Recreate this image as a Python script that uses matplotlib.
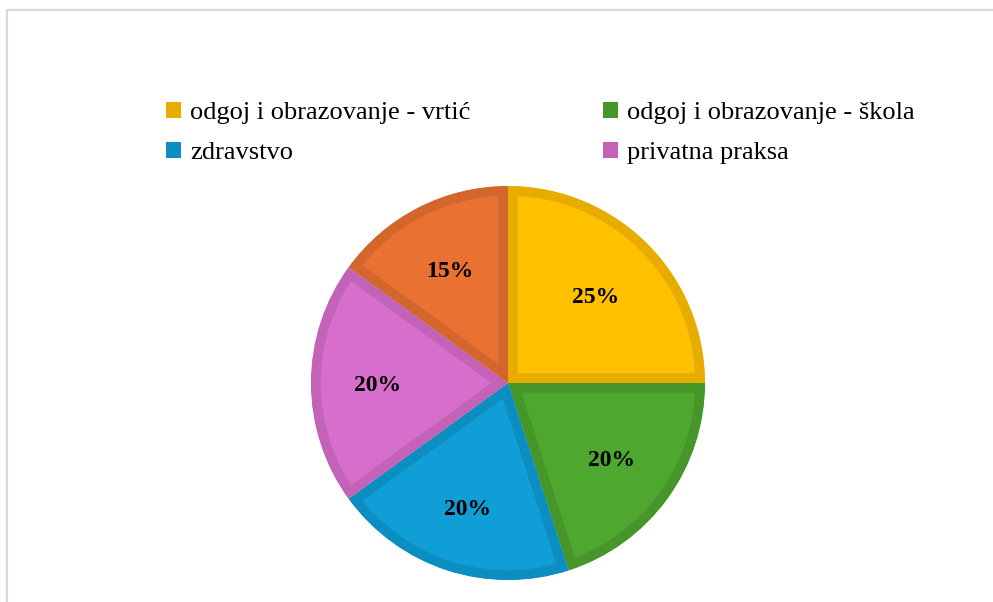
import matplotlib
matplotlib.use('Agg')
import matplotlib.pyplot as plt
import numpy as np
from matplotlib.patches import Rectangle, Patch

categories = ['odgoj i obrazovanje - vrtić', 'odgoj i obrazovanje - škola',
              'zdravstvo', 'privatna praksa', 'ostalo']
shares = [25, 20, 20, 20, 15]
fill_colors = ['#FFC000', '#4EA72E', '#0F9ED5', '#D86ECC', '#E97132']
edge_colors = ['#E6AD00', '#46962A', '#0D8EC0', '#C263B8', '#D2662D']
label_dist = [0.63, 0.65, 0.66, 0.66, 0.65]

W, H = 993, 602
fig = plt.figure(figsize=(W / 100, H / 100), dpi=100)
plt.rcParams['font.family'] = 'Liberation Serif'

# light chart frame (runs off the right and bottom edges)
fig.add_artist(Rectangle((7 / W, -0.1), 1.2, (H - 10) / H + 0.1, transform=fig.transFigure,
                         fill=False, edgecolor='#D9D9D9', linewidth=1.6))

cx, cy, r = 508, 383, 197
ax = fig.add_axes([(cx - r) / W, (H - cy - r) / H, 2 * r / W, 2 * r / H])
wedges, texts, autotexts = ax.pie(shares, colors=fill_colors, startangle=90, counterclock=False,
                                  autopct='%d%%', pctdistance=0.65, radius=1.0,
                                  textprops=dict(fontsize=17, fontweight='bold', color='black'))
# darker border drawn only on the inside of each slice
for w, ec in zip(wedges, edge_colors):
    w.set_edgecolor(ec)
    w.set_linewidth(14)
    w.set_clip_on(True)
    w.set_clip_path(w)

for w, t, d in zip(wedges, autotexts, label_dist):
    mid = np.deg2rad((w.theta1 + w.theta2) / 2)
    t.set_position((d * np.cos(mid), d * np.sin(mid)))
    t.set_va('center_baseline')

ax.set_xlim(-1, 1)
ax.set_ylim(-1, 1)
ax.set_aspect('equal')
ax.axis('off')

order = [0, 2, 1, 3]
handles = [Patch(facecolor=edge_colors[i], edgecolor='none') for i in order]
labels = [categories[i] for i in order]
fig.legend(handles, labels, ncol=2, loc='upper left', bbox_to_anchor=(153 / W, 1 - 89 / H),
           frameon=False, fontsize=19, handlelength=0.55, handleheight=0.55,
           handletextpad=0.35, columnspacing=5.03, labelspacing=0.66, borderpad=0)

fig.savefig('out.png', dpi=100)
